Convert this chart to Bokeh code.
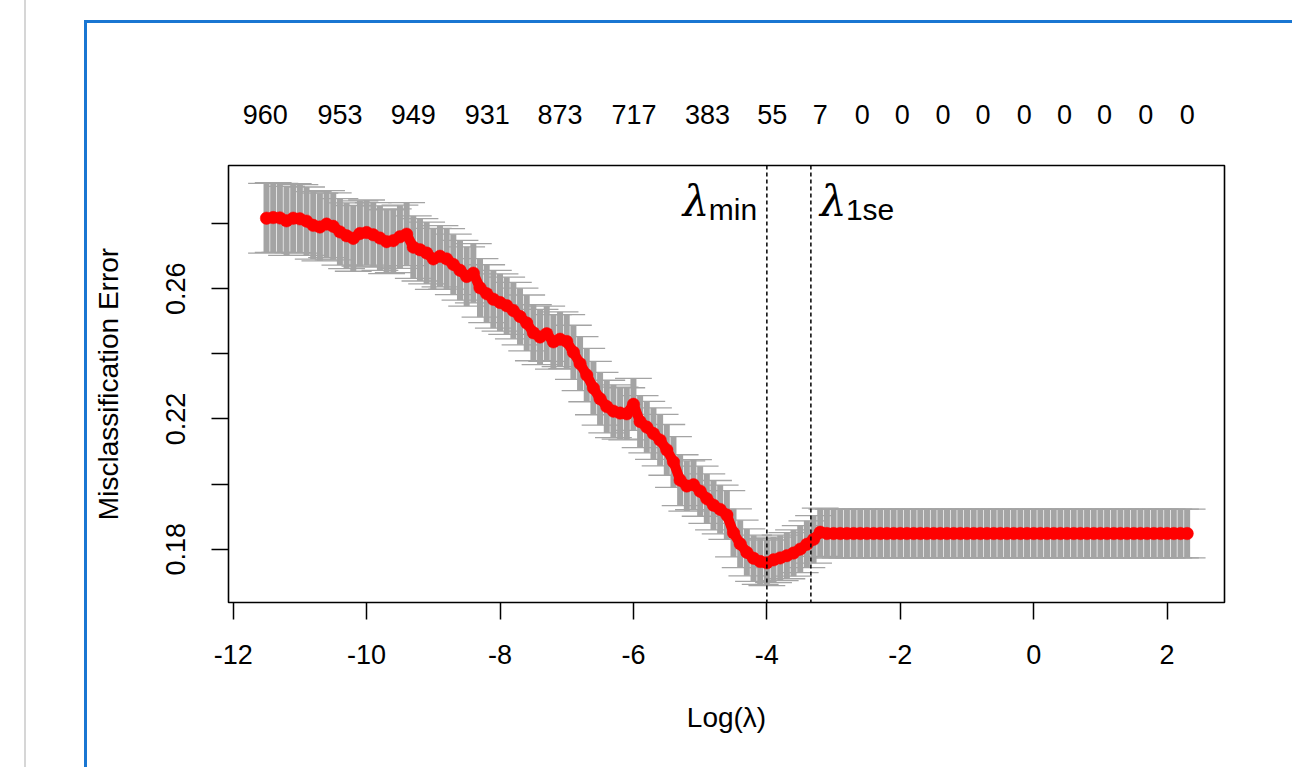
import numpy as np
from bokeh.plotting import figure
from bokeh.layouts import column
from bokeh.models import FixedTicker, LinearAxis, Range1d, Span, ColumnDataSource, Div
from bokeh.core.properties import value
from bokeh.embed import file_html
from bokeh.resources import INLINE

# ---------------- data ----------------
# log(lambda) grid of the cross-validation path
log_lambda = list(np.round(np.linspace(-11.5, 2.3, 139), 2))

# mean misclassification error along the path (-11.5 ... -3.2)
cvm_path = [
    0.2817, 0.2819, 0.2818, 0.2809, 0.2817, 0.2815, 0.2808, 0.2795, 0.2790, 0.2799,
    0.2792, 0.2775, 0.2763, 0.2755, 0.2770, 0.2773, 0.2766, 0.2756, 0.2745, 0.2748,
    0.2760, 0.2768, 0.2728, 0.2720, 0.2710, 0.2692, 0.2700, 0.2692, 0.2675, 0.2657,
    0.2638, 0.2648, 0.2603, 0.2585, 0.2568, 0.2558, 0.2548, 0.2533, 0.2515, 0.2495,
    0.2465, 0.2452, 0.2462, 0.2437, 0.2445, 0.2438, 0.2405, 0.2370, 0.2335, 0.2295,
    0.2262, 0.2238, 0.2224, 0.2218, 0.2216, 0.2245, 0.2192, 0.2175, 0.2155, 0.2135,
    0.2105, 0.2068, 0.2012, 0.1994, 0.1998, 0.1978, 0.1955, 0.1935, 0.1922, 0.1905,
    0.1850, 0.1816, 0.1790, 0.1772, 0.1762, 0.1758, 0.1767, 0.1773, 0.1780, 0.1788,
    0.1800, 0.1815, 0.1830, 0.1852,
]
# null model (0 non-zero coefficients) error for -3.1 ... 2.3
cvm_null = [0.1848] * 55
cvm = cvm_path + cvm_null

# standard error of the CV error
cvsd_path = [
    0.0107, 0.0107, 0.0106, 0.0106, 0.0106, 0.0105, 0.0105, 0.0104, 0.0104, 0.0103,
    0.0103, 0.0102, 0.0101, 0.0101, 0.0100, 0.0100,
    0.0099, 0.0099, 0.0098, 0.0098, 0.0097, 0.0097, 0.0096, 0.0096, 0.0095, 0.0094,
    0.0094, 0.0093, 0.0093, 0.0092, 0.0091, 0.0091, 0.0090, 0.0089, 0.0089, 0.0088,
    0.0088, 0.0087, 0.0087, 0.0086, 0.0086, 0.0085, 0.0085, 0.0084, 0.0084, 0.0083,
    0.0083, 0.0083, 0.0082, 0.0082, 0.0081, 0.0081, 0.0081, 0.0080, 0.0080, 0.0080,
    0.0080, 0.0079, 0.0079, 0.0079, 0.0078, 0.0078, 0.0078, 0.0077, 0.0077, 0.0077,
    0.0076, 0.0076, 0.0075, 0.0075, 0.0074,
    0.0073, 0.0072, 0.0071, 0.0070, 0.0070, 0.0070, 0.0070, 0.0071, 0.0071, 0.0072,
    0.0072, 0.0073, 0.0074,
]
cvsd_null = [0.0075] * 55
cvsd = cvsd_path + cvsd_null

lambda_min_log = -4.0
lambda_1se_log = -3.34

# number of non-zero coefficients shown on the top axis
nzero_pos = [-11.52, -10.40, -9.30, -8.19, -7.10, -5.99, -4.89, -3.92, -3.20,
             -2.57, -1.97, -1.36, -0.76, -0.14, 0.46, 1.06, 1.68, 2.30]
nzero_lab = ["960", "953", "949", "931", "873", "717", "383", "55", "7",
             "0", "0", "0", "0", "0", "0", "0", "0", "0"]

x_ticks = [-12, -10, -8, -6, -4, -2, 0, 2]
y_ticks = [0.18, 0.20, 0.22, 0.24, 0.26, 0.28]
y_tick_labels = ["0.18", "", "0.22", "", "0.26", ""]

x_label = "Log(λ)"
y_label = "Misclassification Error"

# ---------------- derived ----------------
xs = np.array(log_lambda, dtype=float)
m = np.array(cvm, dtype=float)
s = np.array(cvsd, dtype=float)
barw = 0.02 * (xs.max() - xs.min())
src = ColumnDataSource(dict(x=xs, y=m, lo=m - s, hi=m + s, x0=xs - barw, x1=xs + barw))

FONT = "Liberation Sans"

p = figure(frame_width=996, frame_height=437,
           x_range=Range1d(-12.07, 2.86), y_range=Range1d(0.1636, 0.2979),
           output_backend="svg", toolbar_location=None,
           min_border_left=228, min_border_right=60,
           min_border_top=165, min_border_bottom=157)
p.grid.visible = False
p.outline_line_color = "black"
p.outline_line_width = 1.6
p.background_fill_color = "white"
p.border_fill_color = "white"

# error bars
GREY = "#A4A4A4"
p.segment(x0="x", y0="lo", x1="x", y1="hi", source=src, line_color=GREY, line_width=6)
p.segment(x0="x0", y0="hi", x1="x1", y1="hi", source=src, line_color=GREY, line_width=1.3)
p.segment(x0="x0", y0="lo", x1="x1", y1="lo", source=src, line_color=GREY, line_width=1.3)
# CV error points (dense path drawn as overlapping dots)
p.line(x="x", y="y", source=src, line_color="red", line_width=10,
       line_join="round", line_cap="round")
p.scatter(x="x", y="y", source=src, size=12.5, fill_color="red", line_color="red", line_width=0.5)

# lambda lines
for loc in (lambda_min_log, lambda_1se_log):
    p.add_layout(Span(location=loc, dimension="height", line_color="black",
                      line_width=1.5, line_dash="4 3"))

# lambda labels
p.text(x=[lambda_min_log], y=[0.2869], text=["λ"], x_offset=-84,
       text_font=value("DejaVu Serif"), text_font_style="italic", text_font_size="42px",
       text_baseline="alphabetic", text_align="left", text_color="black")
p.text(x=[lambda_min_log], y=[0.2843], text=["min"], x_offset=-58,
       text_font=value(FONT), text_font_size="30px",
       text_baseline="alphabetic", text_align="left", text_color="black")
p.text(x=[lambda_1se_log], y=[0.2869], text=["λ"], x_offset=9,
       text_font=value("DejaVu Serif"), text_font_style="italic", text_font_size="42px",
       text_baseline="alphabetic", text_align="left", text_color="black")
p.text(x=[lambda_1se_log], y=[0.2843], text=["1se"], x_offset=35,
       text_font=value(FONT), text_font_size="30px",
       text_baseline="alphabetic", text_align="left", text_color="black")

# bottom axis
xa = p.xaxis[0]
xa.ticker = FixedTicker(ticks=x_ticks)
xa.major_label_overrides = {t: str(t) for t in x_ticks}
xa.axis_line_color = None
xa.major_tick_out = 17
xa.major_tick_in = 0
xa.major_tick_line_width = 1.5
xa.minor_tick_line_color = None
xa.major_label_standoff = 25
xa.major_label_text_font = FONT
xa.major_label_text_font_size = "27px"
xa.major_label_text_color = "black"
xa.axis_label = x_label
xa.axis_label_text_font = FONT
xa.axis_label_text_font_size = "28px"
xa.axis_label_text_font_style = "normal"
xa.axis_label_text_color = "black"
xa.axis_label_standoff = 35

# left axis
ya = p.yaxis[0]
ya.ticker = FixedTicker(ticks=y_ticks)
ya.major_label_overrides = dict(zip(y_ticks, y_tick_labels))
ya.major_label_orientation = "vertical"
ya.axis_line_color = None
ya.major_tick_out = 17
ya.major_tick_in = 0
ya.major_tick_line_width = 1.5
ya.minor_tick_line_color = None
ya.major_label_standoff = 26
ya.major_label_text_font = FONT
ya.major_label_text_font_size = "27px"
ya.major_label_text_color = "black"
ya.axis_label = y_label
ya.axis_label_text_font = FONT
ya.axis_label_text_font_size = "28px"
ya.axis_label_text_font_style = "normal"
ya.axis_label_text_color = "black"
ya.axis_label_standoff = 40

# top axis with number of non-zero coefficients
ta = LinearAxis(ticker=FixedTicker(ticks=nzero_pos),
                major_label_overrides=dict(zip(nzero_pos, nzero_lab)))
ta.axis_line_color = None
ta.major_tick_line_color = None
ta.minor_tick_line_color = None
ta.major_tick_out = 0
ta.major_tick_in = 0
ta.major_label_standoff = 42
ta.major_label_text_font = FONT
ta.major_label_text_font_size = "27px"
ta.major_label_text_color = "black"
p.add_layout(ta, "above")

# page chrome (grey rule and blue panel frame)
chrome = Div(width=1, height=1, text=(
    '<div style="position:fixed;left:24px;top:0px;width:2px;height:900px;'
    'background:#d6d6d6;pointer-events:none;"></div>'
    '<div style="position:fixed;left:84px;top:20px;width:1500px;height:1000px;'
    'border:3px solid #1976d2;box-sizing:border-box;pointer-events:none;"></div>'))

layout = column(p, chrome)
open("out.html", "w").write(file_html(layout, INLINE))
